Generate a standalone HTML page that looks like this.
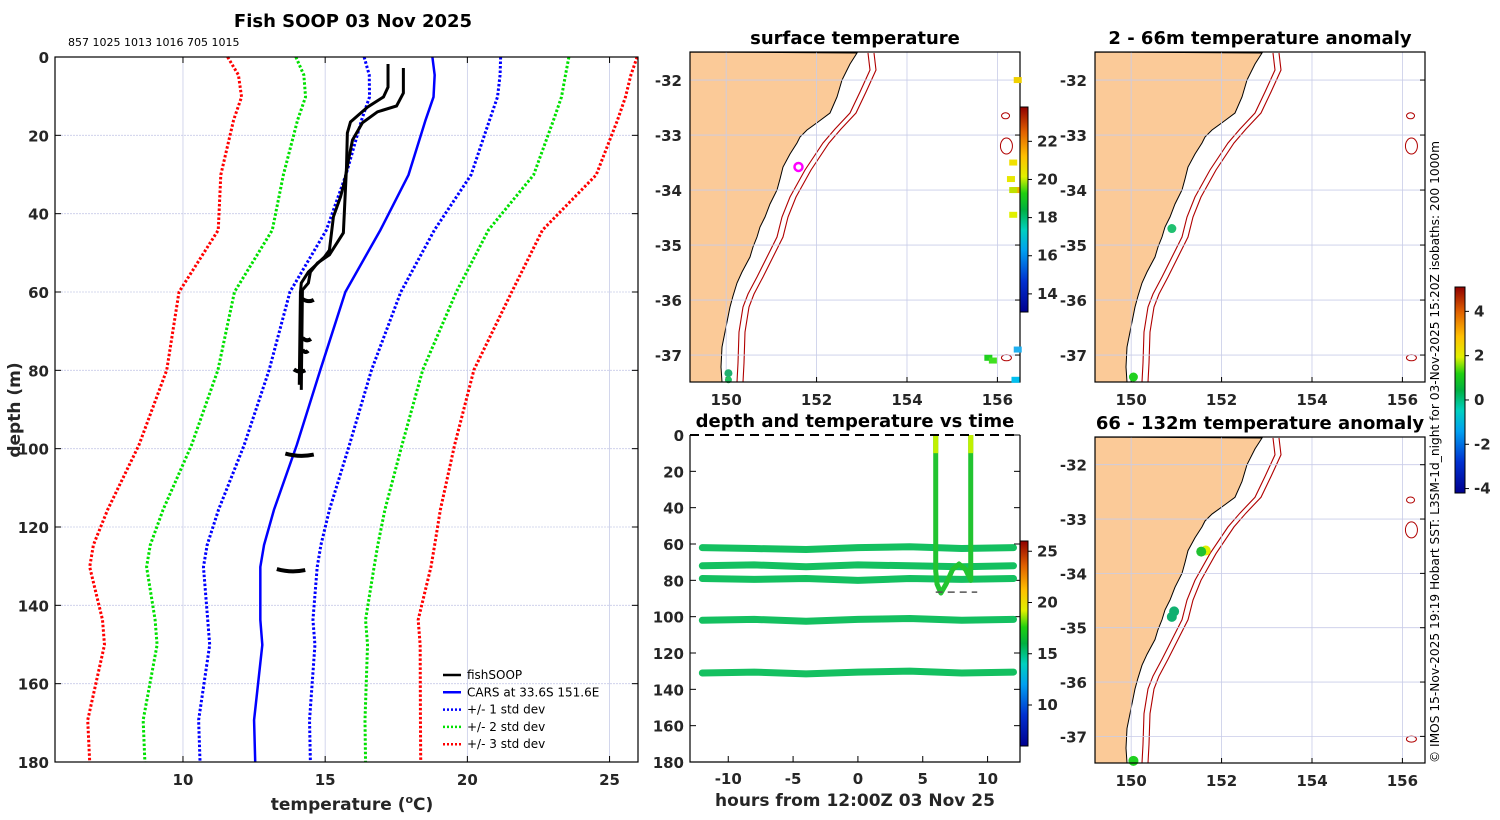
<!DOCTYPE html>
<html><head><meta charset="utf-8"><style>
body{margin:0;background:#fff;}
svg{display:block;font-family:"DejaVu Sans","Liberation Sans",sans-serif;}
.tk{font-size:15px;font-weight:bold;fill:#262626;}
.tt{font-size:18px;font-weight:bold;fill:#000;}
</style></head><body>
<svg id="fig" width="1500" height="820" viewBox="0 0 1500 820" xmlns="http://www.w3.org/2000/svg">
<defs>
<linearGradient id="jet" x1="0" y1="1" x2="0" y2="0">
<stop offset="0" stop-color="#00008f"/><stop offset="0.15" stop-color="#0030d0"/><stop offset="0.3" stop-color="#00a0f0"/><stop offset="0.4" stop-color="#00d0c0"/><stop offset="0.5" stop-color="#00b040"/><stop offset="0.58" stop-color="#20d010"/><stop offset="0.66" stop-color="#e0f000"/><stop offset="0.76" stop-color="#ffc000"/><stop offset="0.88" stop-color="#e06000"/><stop offset="1" stop-color="#900000"/>
</linearGradient>
</defs>
<g id="root"></g>
</svg>
<script>
// ---- profile data ----
const carsDepth=[0,4.6,10.2,16.1,30.1,44.2,60,79.9,99.1,115.6,124.6,130.2,143.7,150.1,169.3,180];
const carsMean=[18.77,18.85,18.81,18.53,17.93,16.94,15.71,14.83,14.0,13.2,12.85,12.72,12.72,12.79,12.5,12.54];
const carsStd=[2.4,2.3,2.25,2.25,2.2,1.9,1.95,1.8,1.85,1.95,2.0,2.0,1.85,1.85,1.95,1.94];
const soopATemp=[17.21,17.21,17.05,16.49,16.17,15.89,15.78,15.75,15.64,15.15,14.73,14.48,14.41,14.2,14.16];
const soopADepth=[1.8,7.7,10.2,12.8,14.8,16.6,19.4,28.1,44.9,50.5,52.6,54.9,57.7,59.5,85];
const soopBTemp=[17.75,17.75,17.51,16.84,16.31,15.96,15.82,15.68,15.54,15.29,15.15,14.97,14.41,14.16,14.13,14.09];
const soopBDepth=[2.8,9.2,12.5,14.0,16.8,21.2,26.3,31.9,35.7,40.8,49.3,51.1,54.9,57.7,60.2,83.7];
const blobDepth=[62,72,75,80,101.5,131];
const blobTmin=[14.2,14.2,14.2,13.9,13.6,13.3];
const blobTmax=[14.6,14.5,14.4,14.3,14.6,14.3];
const tempTicks=[10,15,20,25];
const depthTicks=[0,20,40,60,80,100,120,140,160,180];
// ---- time series data ----
const bandHours=[-12,-8,-4,0,4,8,12];
const bandDepths=[[62,62.5,63,62,61.5,62.5,62],[72,71.5,72.5,71.5,72,72.5,72],[79,79.5,79,80,79,79.5,79],[102,101.5,102.5,101.5,101,102,101.5],[131,130.5,131.5,130.5,130,131,130.5]];
const castHours=[6,6,6.1,6.4,6.8,7.3,7.8,8.3,8.7,8.7];
const castDepths=[0,75,82,87,82,74,71,74,80,0];
const hourTicks=[-10,-5,0,5,10];
// ---- map data ----
const latTicks=[-32,-33,-34,-35,-36,-37];
const lonTicks=[150,152,154,156];
const sstCbarTicks=[14,16,18,20,22];
const anomTicks=[-4,-2,0,2,4];
const timeCbarTicks=[10,15,20,25];

const NS='http://www.w3.org/2000/svg';
const root=document.getElementById('root');
function mk(tag,attrs,parent){const e=document.createElementNS(NS,tag);for(const k in attrs)e.setAttribute(k,attrs[k]);(parent||root).appendChild(e);return e;}
function txt(x,y,s,cls,anchor,parent){const t=mk('text',{x:x,y:y,class:cls,'text-anchor':anchor||'middle'},parent);t.textContent=s;return t;}

// ===== profile panel =====
const P={x0:55,x1:638,y0:57,y1:762,tmin:5.5,tmax:26,dmax:180};
const px=t=>P.x0+(t-P.tmin)/(P.tmax-P.tmin)*(P.x1-P.x0);
const py=d=>P.y0+d/P.dmax*(P.y1-P.y0);
const gp=mk('g',{});


tempTicks.forEach(t=>{mk('line',{x1:px(t),x2:px(t),y1:P.y0,y2:P.y1,stroke:'#c8cce8','stroke-width':0.8},gp);
 mk('line',{x1:px(t),x2:px(t),y1:P.y1,y2:P.y1-6,stroke:'#000'},gp);mk('line',{x1:px(t),x2:px(t),y1:P.y0,y2:P.y0+6,stroke:'#000'},gp);
 const l=txt(px(t),P.y1+23,String(t),'tk','middle',gp);});
depthTicks.forEach(d=>{mk('line',{x1:P.x0,x2:P.x1,y1:py(d),y2:py(d),stroke:'#c8cce8','stroke-width':0.8,'stroke-dasharray':'2,1'},gp);
 mk('line',{x1:P.x0,x2:P.x0+6,y1:py(d),y2:py(d),stroke:'#000'},gp);mk('line',{x1:P.x1,x2:P.x1-6,y1:py(d),y2:py(d),stroke:'#000'},gp);
 const l=txt(P.x0-6,py(d)+6,String(d),'tk','end',gp);});
function poly(ts,ds,attrs){return mk('polyline',Object.assign({points:ts.map((t,i)=>px(t)+','+py(ds[i])).join(' '),fill:'none'},attrs),gp);}
const sdCol={1:'#0000ff',2:'#00e000',3:'#ff0000'};
[3,2,1].forEach(k=>[-1,1].forEach(s=>{const l=poly(carsMean.map((m,i)=>m+s*k*carsStd[i]),carsDepth,{stroke:sdCol[k],'stroke-width':3,'stroke-dasharray':'2.5,2'});
 }));
const cm=poly(carsMean,carsDepth,{stroke:'#0000ff','stroke-width':2.5});

const sa=poly(soopATemp,soopADepth,{stroke:'#000','stroke-width':3});

const sb=poly(soopBTemp,soopBDepth,{stroke:'#000','stroke-width':3});

blobDepth.forEach((d,i)=>{const b=mk('path',{d:`M${px(blobTmin[i])},${py(d)-1} Q${(px(blobTmin[i])+px(blobTmax[i]))/2},${py(d)+3} ${px(blobTmax[i])},${py(d)}`,stroke:'#000','stroke-width':4,fill:'none'},gp);
 });
mk('rect',{x:P.x0,y:P.y0,width:P.x1-P.x0,height:P.y1-P.y0,fill:'none',stroke:'#000','stroke-width':1.2},gp);
const t1=txt(353,27,'Fish SOOP 03 Nov 2025','tt','middle',gp);
const sub=txt(68,46,'857 1025 1013 1016 705 1015','','start',gp);sub.setAttribute('font-size','11');
const xl=mk('text',{x:352,y:810,'font-size':17,'font-weight':'bold','text-anchor':'middle',fill:'#262626'},gp);xl.innerHTML='temperature (<tspan font-size="11" dy="-7">o</tspan><tspan dy="7">C)</tspan>';

const yl=txt(0,0,'depth (m)','','middle',gp);yl.setAttribute('transform','translate(20,410) rotate(-90)');yl.setAttribute('font-size','17');yl.setAttribute('font-weight','bold');yl.setAttribute('fill','#262626');

const leg=[['fishSOOP','#000',''],['CARS at 33.6S 151.6E','#0000ff',''],['+/- 1 std dev','#0000ff','2,2'],['+/- 2 std dev','#00e000','2,2'],['+/- 3 std dev','#ff0000','2,2']];
leg.forEach((e,i)=>{const y=675+i*17.3;const g=mk('g',{},gp);
 mk('line',{x1:443,x2:461,y1:y,y2:y,stroke:e[1],'stroke-width':2.5,'stroke-dasharray':e[2]||'none'},g);
 const t=txt(467,y+4,e[0],'','start',g);t.setAttribute('font-size','12');});

// ===== maps =====
const coast=[[167,1],[160,12],[152,28],[147,45],[140,61],[128,70],[117,78],[110,85],[107,91],[100,102],[93,115],[90,127],[87,138],[80,152],[75,165],[70,175],[67,185],[63,195],[60,205],[52,220],[47,231],[43,244],[40,255],[36,275],[32,295],[31,315],[32,330]];
const iso=[[178,1],[180,18],[170,40],[160,61],[145,77],[133,91],[115,118],[100,145],[92,165],[87,185],[77,205],[67,225],[58,242],[53,255],[49,280],[48,311],[47,330]];
function drawMap(name,X,Y,W,H,title,dots){
 const g=mk('g',{});
 const sx=W/330,sy=H/330;
 const lonPx=l=>X+(l-149.2)/(156.5-149.2)*W, latPx=a=>Y+(-31.49-a)/(6.0)*H;
 const land='M'+X+','+Y+' '+coast.map(p=>(X+p[0]*sx)+','+(Y+p[1]*sy)).join(' ')+' L'+X+','+(Y+H)+'Z';
 const lp=mk('path',{d:land,fill:'#fbca98',stroke:'#000','stroke-width':1},g);
 [0,6].forEach(o=>{const ib=mk('polyline',{points:iso.map(p=>(X+(p[0]+o)*sx)+','+(Y+p[1]*sy)).join(' '),fill:'none',stroke:'#b00000','stroke-width':1.1},g);
  });
 [[156.18,-32.65,4,3],[156.2,-33.2,6,8],[156.2,-37.05,5,3]].forEach(s=>mk('ellipse',{cx:lonPx(s[0]),cy:latPx(s[1]),rx:s[2],ry:s[3],fill:'none',stroke:'#b00000','stroke-width':1},g));
 lonTicks.forEach(l=>{mk('line',{x1:lonPx(l),x2:lonPx(l),y1:Y,y2:Y+H,stroke:'#c8cce8','stroke-width':0.8},g);
  const t=txt(lonPx(l),Y+H+23,String(l),'tk','middle',g);
  mk('line',{x1:lonPx(l),x2:lonPx(l),y1:Y+H,y2:Y+H-5,stroke:'#000'},g);});
 latTicks.forEach(a=>{mk('line',{x1:X,x2:X+W,y1:latPx(a),y2:latPx(a),stroke:'#c8cce8','stroke-width':0.8},g);
  const t=txt(X-8,latPx(a)+6,String(a),'tk','end',g);
  mk('line',{x1:X+W,x2:X+W-5,y1:latPx(a),y2:latPx(a),stroke:'#000'},g);});
 dots.forEach(d=>{const c=mk('circle',{cx:lonPx(d[0]),cy:latPx(d[1]),r:d[3]||4.5,fill:d[2],stroke:d[4]||'none','stroke-width':d[4]?2.5:0},g);
  });
 mk('rect',{x:X,y:Y,width:W,height:H,fill:'none',stroke:'#000','stroke-width':1.2},g);
 const tt=txt(X+W/2,Y-8,title,'tt','middle',g);tt.setAttribute('font-size','17');
 return {g,lonPx,latPx};
}
const m1=drawMap('surface-temperature-map',690,52,330,330,'surface temperature',[[151.6,-33.58,'none',4,'#ff00ff'],[150.05,-37.33,'#20b070',4],[150.05,-37.45,'#20c060',3.5]]);
[[156.35,-33.5,'#f0e000'],[156.3,-33.8,'#e8e800'],[156.4,-34.0,'#f0b000'],[156.35,-34.0,'#c0e000'],[156.35,-34.45,'#e0f000'],[155.8,-37.05,'#20d020'],[155.9,-37.1,'#40e020'],[156.4,-37.45,'#00c0f0'],[156.45,-36.9,'#20b0f0'],[156.45,-32.0,'#f0d000']].forEach(p=>{
 const r=mk('rect',{x:m1.lonPx(p[0])-4,y:m1.latPx(p[1])-3,width:8,height:6,fill:p[2]},m1.g);});
drawMap('anomaly-2-66m-map',1095,52,330,330,'2 - 66m temperature anomaly',[[150.9,-34.7,'#20c070',4.5],[150.05,-37.4,'#20d020',4.5]]);
drawMap('anomaly-66-132m-map',1095,437,330,326,'66 - 132m temperature anomaly',[[151.65,-33.58,'#e0f000',5],[151.55,-33.6,'#20c030',5],[150.95,-34.7,'#10b070',5],[150.9,-34.8,'#10b070',5],[150.05,-37.45,'#20d020',5]]);

function cbar(name,X,Y,W,H,vmin,vmax,ticks){
 const g=mk('g',{});
 mk('rect',{x:X,y:Y,width:W,height:H,fill:'url(#jet)',stroke:'#000','stroke-width':1},g);
 ticks.forEach(v=>{const y=Y+H-(v-vmin)/(vmax-vmin)*H;mk('line',{x1:X+W,x2:X+W+4,y1:y,y2:y,stroke:'#000'},g);
  const t=txt(X+W+9,y+5,String(v),'tk','start',g);t.setAttribute('font-size','13');});
}
cbar('sst-colorbar',1020,107,8,205,13.05,23.8,sstCbarTicks);
cbar('anomaly-colorbar',1455,287,10,206,-4.2,5.1,anomTicks);
cbar('time-colorbar',1020,541,8,205,6,26,timeCbarTicks);

// ===== time series =====
const T={x0:690,x1:1020,y0:435,y1:762,hmin:-12.95,hmax:12.5};
const tx=h=>T.x0+(h-T.hmin)/(T.hmax-T.hmin)*(T.x1-T.x0);
const ty=d=>T.y0+d/180*(T.y1-T.y0);
const gt=mk('g',{});
hourTicks.forEach(h=>{mk('line',{x1:tx(h),x2:tx(h),y1:T.y1,y2:T.y1-6,stroke:'#000'},gt);
 const t=txt(tx(h),T.y1+22,String(h),'tk','middle',gt);});
depthTicks.forEach(d=>{mk('line',{x1:T.x0,x2:T.x0+6,y1:ty(d),y2:ty(d),stroke:'#000'},gt);mk('line',{x1:T.x1,x2:T.x1-6,y1:ty(d),y2:ty(d),stroke:'#000'},gt);
 const t=txt(T.x0-6,ty(d)+6,String(d),'tk','end',gt);});
bandDepths.forEach(ds=>{const l=mk('polyline',{points:bandHours.map((h,i)=>tx(h)+','+ty(ds[i])).join(' '),fill:'none',stroke:'#14c060','stroke-width':7,'stroke-linecap':'round'},gt);
 });
const cast=mk('polyline',{points:castHours.map((h,i)=>tx(h)+','+ty(castDepths[i])).join(' '),fill:'none',stroke:'#22c430','stroke-width':5,'stroke-linejoin':'round'},gt);

[6,8.7].forEach(h=>mk('line',{x1:tx(h),x2:tx(h),y1:ty(0),y2:ty(10),stroke:'#c0f000','stroke-width':5},gt));
mk('line',{x1:T.x0,x2:T.x1,y1:T.y0,y2:T.y0,stroke:'#000','stroke-width':2,'stroke-dasharray':'9,6'},gt);
mk('line',{x1:tx(6),x2:tx(9.2),y1:ty(86.5),y2:ty(86.5),stroke:'#555','stroke-width':1.5,'stroke-dasharray':'7,5'},gt);
mk('polyline',{points:`${T.x0},${T.y0} ${T.x0},${T.y1} ${T.x1},${T.y1} ${T.x1},${T.y0}`,fill:'none',stroke:'#000','stroke-width':1.2},gt);
const tt2=txt(855,427,'depth and temperature vs time','tt','middle',gt);tt2.setAttribute('font-size','17');
const tx2=txt(855,806,'hours from 12:00Z 03 Nov 25','','middle',gt);tx2.setAttribute('font-size','17');tx2.setAttribute('font-weight','bold');tx2.setAttribute('fill','#262626');


const cr=txt(0,0,'© IMOS 15-Nov-2025 19:19 Hobart SST: L3SM-1d_night for 03-Nov-2025 15:20Z isobaths: 200  1000m','','start');
cr.setAttribute('transform','translate(1439,763) rotate(-90)');cr.setAttribute('font-size','12.2');cr.setAttribute('fill','#000');

</script>
</body></html>
